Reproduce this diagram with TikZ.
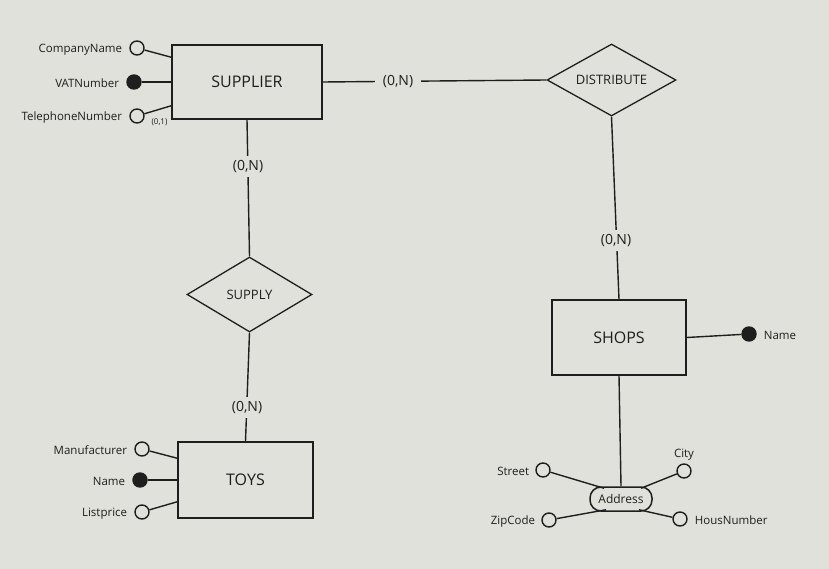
\documentclass[tikz,border=0pt]{standalone}
\usepackage{fontspec}
\setmainfont{Open Sans}
\usepackage{xcolor}
\usepackage{tikz}
\usetikzlibrary{arrows.meta}
\usetikzlibrary{positioning}
\usetikzlibrary{shapes.geometric}

\definecolor{paper}{RGB}{225,225,219}
\definecolor{ink}{RGB}{30,30,30}

\begin{document}
\begin{tikzpicture}[
    x=1pt, y=-1pt,
    every node/.style={text=ink},
    entity/.style={rectangle, draw=ink, line width=1.5pt, minimum width=150pt, minimum height=74pt, font=\fontsize{16}{19}\selectfont},
    relation/.style={diamond, aspect=1.8, draw=ink, line width=1.3pt, inner sep=0pt, minimum width=127pt, minimum height=74pt, font=\fontsize{13}{15}\selectfont},
    attr/.style={circle, draw=ink, line width=1.4pt, fill=paper, minimum size=14pt, inner sep=0pt},
    key/.style={attr, fill=ink},
    attrlabel/.style={font=\fontsize{11.5}{14}\selectfont, inner sep=1pt, yshift=-1.5pt},
    card/.style={fill=paper, inner xsep=8pt, inner ysep=4pt, font=\fontsize{14}{16}\selectfont},
    edge/.style={draw=ink, line width=1.4pt}
]

% Hintergrund
\fill[paper] (0,0) rectangle (829,569);
\useasboundingbox (0,0) rectangle (829,569);

% Entitaeten
\node[entity] (sup) at (247,82) {SUPPLIER};
\node[entity, minimum width=135pt, minimum height=76pt] (toys) at (245.5,480) {TOYS};
\node[entity, minimum width=134pt, minimum height=75pt] (shops) at (619,337.5) {SHOPS};

% Beziehungen
\node[relation, minimum width=129pt, minimum height=72pt] (dist) at (611.5,80) {DISTRIBUTE};
\node[relation, minimum width=125pt, minimum height=75pt] (supply) at (249.5,294.5) {SUPPLY};

% Beziehungslinien
\draw[edge] (sup.east) -- (dist.west);
\draw[edge] (sup.south) -- (supply.north);
\draw[edge] (supply.south) -- (toys.north);
\draw[edge] (dist.south) -- (shops.north);

% Kardinalitaeten
\node[card] (c1) at (398,81.5) {(0,N)};
\node[card] (c2) at (248,166.5) {(0,N)};
\node[card] (c3) at (247,407.5) {(0,N)};
\node[card] (c4) at (616,240.5) {(0,N)};

% Attribute SUPPLIER
\node[attr] (sa1) at (137,48) {};
\node[key] (sa2) at (134,82) {};
\node[attr] (sa3) at (137,116) {};
\node[attrlabel, left=6pt of sa1] (sl1) {CompanyName};
\node[attrlabel, left=6pt of sa2] (sl2) {VATNumber};
\node[attrlabel, left=6pt of sa3] (sl3) {TelephoneNumber};
\node[font=\fontsize{8}{9}\selectfont, inner sep=0pt] (sc3) at (159.5,122) {(0,1)};
\draw[edge] (sa1) -- ([yshift=-13pt]sup.north west);
\draw[edge] (sa2) -- (sup.west);
\draw[edge] (sa3) -- ([yshift=14pt]sup.south west);

% Attribute TOYS
\node[attr] (ta1) at (142,449) {};
\node[key] (ta2) at (140,480) {};
\node[attr] (ta3) at (142,512) {};
\node[attrlabel, left=6pt of ta1] (tl1) {Manufacturer};
\node[attrlabel, left=6pt of ta2] (tl2) {Name};
\node[attrlabel, left=6pt of ta3] (tl3) {Listprice};
\draw[edge] (ta1) -- ([yshift=-17pt]toys.north west);
\draw[edge] (ta2) -- (toys.west);
\draw[edge] (ta3) -- ([yshift=17pt]toys.south west);

% Attribute SHOPS
\node[key] (na) at (749,334) {};
\node[attrlabel, right=6pt of na] (nl) {Name};
\draw[edge] (shops.east) -- (na);

% zusammengesetztes Attribut Address
\node[draw=ink, line width=1.5pt, rounded corners=11pt, minimum width=62pt, minimum height=24pt, inner sep=0pt, font=\fontsize{12}{14}\selectfont] (addr) at (621,499) {Address};
\draw[edge] (shops.south) -- (addr.north);

\node[attr] (aa1) at (543,470) {};
\node[attr] (aa2) at (684,471) {};
\node[attr] (aa3) at (549,520) {};
\node[attr] (aa4) at (680,519) {};
\node[attrlabel, left=5pt of aa1] (al1) {Street};
\node[attrlabel, above=3pt of aa2] (al2) {City};
\node[attrlabel, left=5pt of aa3] (al3) {ZipCode};
\node[attrlabel, right=6pt of aa4] (al4) {HousNumber};
\draw[edge] (aa1) -- ([xshift=-17pt,yshift=-2pt]addr.north);
\draw[edge] (aa2) -- ([xshift=20pt,yshift=-2pt]addr.north);
\draw[edge] (aa3) -- ([xshift=-15pt,yshift=2pt]addr.south);
\draw[edge] (aa4) -- ([xshift=18pt,yshift=2pt]addr.south);

\end{tikzpicture}
\end{document}
